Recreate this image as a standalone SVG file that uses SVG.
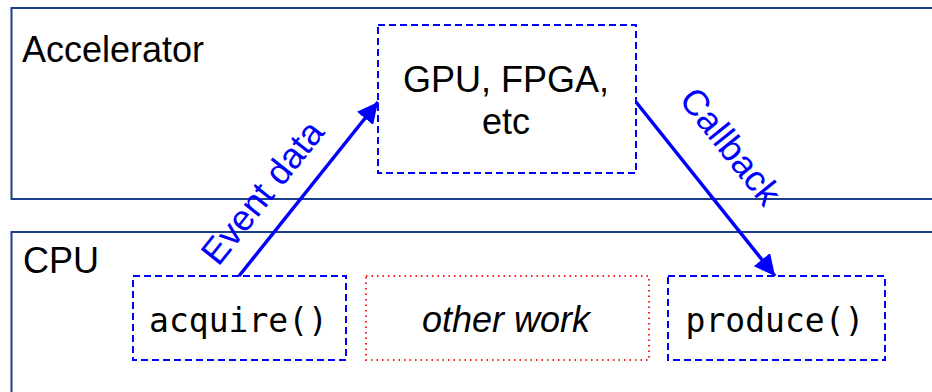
<svg xmlns="http://www.w3.org/2000/svg" width="932" height="392" viewBox="0 0 932 392">
<defs>
<style>
.region{fill:none;stroke:#1c3f8a;stroke-width:2}
.dash{fill:#fff;stroke:#0000ff;stroke-width:2;stroke-dasharray:7 4}
.dot{fill:#fff;stroke:#ff2020;stroke-width:2;stroke-dasharray:1.5 4}
.sans{font-family:"Liberation Sans",Arial,Helvetica,sans-serif;font-size:36px;fill:#000}
.mono{font-family:"DejaVu Sans Mono","Liberation Mono",monospace;font-size:33px;fill:#000}
.lbl{font-family:"Liberation Sans",Arial,Helvetica,sans-serif;font-size:36px;fill:#0000ff}
.conn{stroke:#0000ff;stroke-width:3.5;fill:none;marker-end:url(#ah)}
</style>
<marker id="ah" viewBox="0 0 10 10" refX="10" refY="5" markerUnits="userSpaceOnUse" markerWidth="21" markerHeight="21" orient="auto">
<path d="M0,0 L10,5 L0,10 z" fill="#0000ff"/>
</marker>
</defs>
<rect width="932" height="392" fill="#fff"/>
<g id="accelerator">
<rect class="region" x="11.5" y="8" width="940" height="191"/>
<text class="sans" x="22" y="62" font-size="38.5">Accelerator</text>
</g>
<g id="cpu">
<rect class="region" x="11.5" y="232" width="940" height="180"/>
<text class="sans" x="23" y="273" font-size="37.5">CPU</text>
</g>
<g id="gpu">
<rect class="dash" x="378" y="25" width="258" height="148"/>
<text class="sans" x="506" y="92" text-anchor="middle">GPU, FPGA,</text>
<text class="sans" x="506" y="134" text-anchor="middle">etc</text>
</g>
<g id="acquire">
<rect class="dash" x="133" y="276" width="213" height="84"/>
<text class="mono" x="238.5" y="332" text-anchor="middle">acquire()</text>
</g>
<g id="other">
<rect class="dot" x="366" y="276" width="283" height="84"/>
<text class="sans" x="506" y="332" text-anchor="middle" font-style="italic" font-size="37">other work</text>
</g>
<g id="produce">
<rect class="dash" x="668" y="276" width="217" height="84"/>
<text class="mono" x="775" y="332" text-anchor="middle">produce()</text>
</g>
<g id="connectors">
<line class="conn" x1="239" y1="276" x2="378" y2="102"/>
<line class="conn" x1="636" y1="102" x2="775" y2="276"/>
<text class="lbl" x="272" y="200" text-anchor="middle" transform="rotate(-51.4 272 200)">Event data</text>
<text class="lbl" x="721" y="154" text-anchor="middle" transform="rotate(51.4 721 154)">Callback</text>
</g>
</svg>
